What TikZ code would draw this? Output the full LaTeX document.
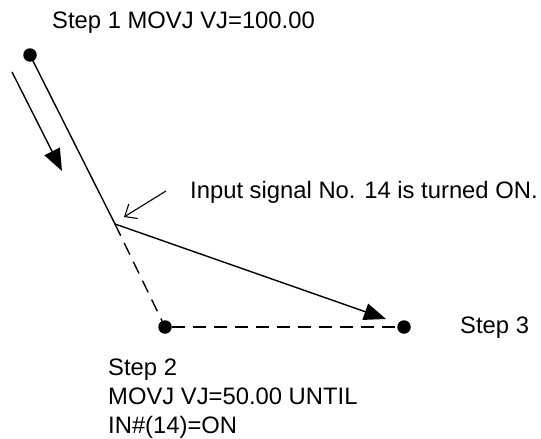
\documentclass[tikz,border=0pt]{standalone}
\usepackage{fontspec}
\setmainfont{Liberation Sans}
\usetikzlibrary{arrows.meta}
\begin{document}
\begin{tikzpicture}[x=1pt,y=-1pt,
  dot/.style={circle,fill=black,inner sep=0pt,minimum size=13.5pt},
  lbl/.style={anchor=base west,inner sep=0pt,font=\fontsize{23.8}{29}\selectfont},
  solidline/.style={line width=1.4pt},
  dsh/.style={line width=1.4pt,dash pattern=on 13pt off 8pt},
  bigtip/.style={-{Triangle[length=22pt,width=17pt]}},
  smalltip/.style={line width=1.1pt,-{Straight Barb[length=10pt,width=17pt]}},
  ]
\useasboundingbox (0,0) rectangle (541,439);
% points
\node[dot] (p1) at (30,55) {};
\coordinate (c) at (115,224);
\node[dot] (p2) at (165,327) {};
\node[dot] (p3) at (404,327) {};
\coordinate (t3) at (386,319);
% paths
\draw[solidline] (p1.center) -- (c);
\draw[solidline,bigtip] (c) -- (t3);
\draw[dsh] (c) -- (p2);
\draw[dsh] (p2) -- (p3);
% side arrow
\coordinate (a1) at (12,72);
\coordinate (a2) at (62,171);
\draw[solidline,bigtip] (a1) -- (a2);
% pointer
\coordinate (s1) at (166,191);
\coordinate (s2) at (124,217);
\draw[smalltip] (s1) -- (s2);
% labels
\node[lbl] (l1) at (52,28) {Step 1 MOVJ VJ=100.00};
\node[lbl] (lin) at (190,198) {Input signal No. 14 is turned ON.};
\node[lbl] (l3) at (460,333) {Step 3};
\node[lbl] (l2a) at (108,375) {Step 2};
\node[lbl] (l2b) at (108,404) {MOVJ VJ=50.00 UNTIL};
\node[lbl] (l2c) at (108,433) {IN\#(14)=ON};
\end{tikzpicture}
\end{document}
